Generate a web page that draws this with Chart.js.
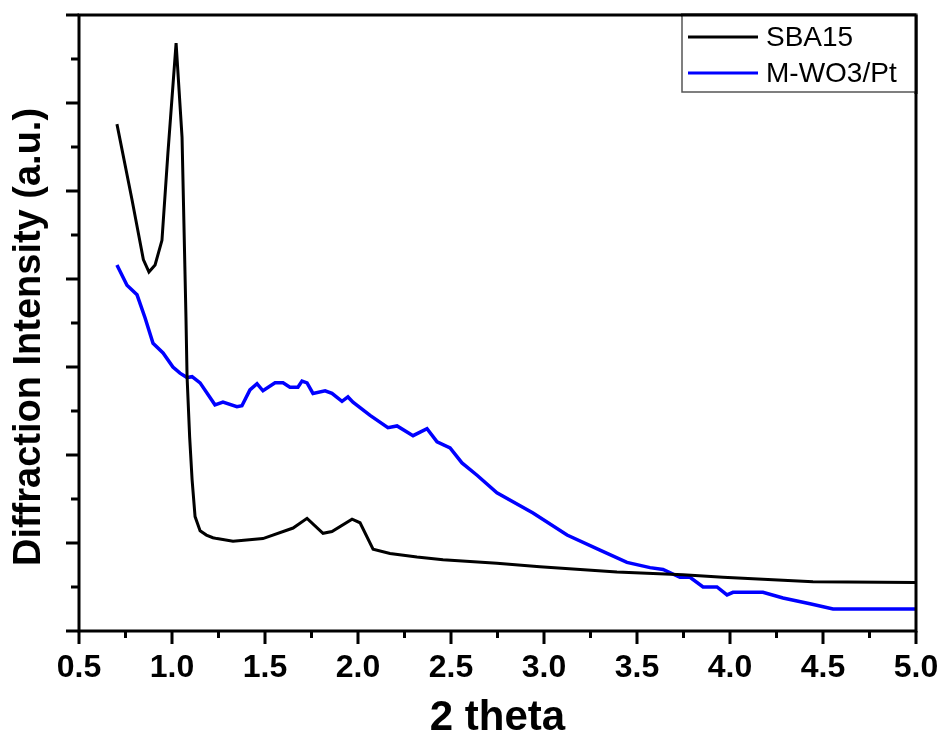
<!DOCTYPE html>
<html>
<head>
<meta charset="utf-8">
<script src="https://cdn.jsdelivr.net/npm/chart.js@4.4.1/dist/chart.umd.min.js"></script>
<style>
  body { margin: 0; background: #fff; }
  #wrap { width: 944px; height: 740px; }
</style>
</head>
<body>
<div id="wrap"><canvas id="xrd" width="944" height="740"></canvas></div>
<script>
// Données (2 theta / intensité en u.a.)
const seriesNames = ['SBA15', 'M-WO3/Pt'];
const sbaTheta = [0.704, 0.785, 0.846, 0.876, 0.909, 0.946, 0.978, 1.022, 1.054, 1.075, 1.081, 1.095, 1.108, 1.124, 1.151, 1.185, 1.220, 1.242, 1.328, 1.489, 1.651, 1.726, 1.812, 1.860, 1.968, 2.011, 2.081, 2.172, 2.317, 2.457, 2.747, 2.978, 3.392, 3.747, 3.962, 4.446, 4.995];
const sbaIntensity = [5.76, 4.90, 4.22, 4.08, 4.16, 4.44, 5.43, 6.68, 5.61, 3.57, 2.89, 2.20, 1.72, 1.30, 1.14, 1.09, 1.06, 1.05, 1.02, 1.05, 1.17, 1.28, 1.11, 1.13, 1.27, 1.23, 0.93, 0.88, 0.84, 0.81, 0.77, 0.73, 0.67, 0.64, 0.61, 0.56, 0.55];
const wo3Theta = [0.704, 0.758, 0.812, 0.855, 0.898, 0.952, 1.005, 1.043, 1.081, 1.108, 1.151, 1.231, 1.274, 1.349, 1.376, 1.419, 1.457, 1.489, 1.554, 1.597, 1.634, 1.677, 1.699, 1.726, 1.758, 1.823, 1.860, 1.914, 1.946, 1.973, 2.065, 2.161, 2.210, 2.296, 2.371, 2.425, 2.495, 2.559, 2.640, 2.747, 2.941, 3.124, 3.301, 3.446, 3.570, 3.640, 3.731, 3.785, 3.855, 3.930, 3.984, 4.016, 4.177, 4.285, 4.430, 4.554, 4.823, 4.995];
const wo3Intensity = [4.16, 3.93, 3.82, 3.56, 3.27, 3.16, 3.00, 2.93, 2.88, 2.89, 2.82, 2.57, 2.60, 2.55, 2.56, 2.74, 2.81, 2.73, 2.82, 2.82, 2.77, 2.77, 2.84, 2.82, 2.70, 2.73, 2.70, 2.61, 2.66, 2.60, 2.45, 2.31, 2.33, 2.22, 2.30, 2.15, 2.08, 1.91, 1.77, 1.57, 1.34, 1.09, 0.92, 0.78, 0.72, 0.70, 0.61, 0.61, 0.50, 0.50, 0.41, 0.44, 0.44, 0.375, 0.31, 0.25, 0.25, 0.25];
const xTickLabels = ['0.5', '1.0', '1.5', '2.0', '2.5', '3.0', '3.5', '4.0', '4.5', '5.0'];
const yTitle = 'Diffraction Intensity (a.u.)';

const toPoints = (xs, ys) => xs.map((x, i) => ({ x: x, y: ys[i] }));

// Cadre + graduations vers l'extérieur (majeures / mineures) + titre Y
const framePlugin = {
    id: 'frame',
    afterDraw(chart) {
        const { ctx, chartArea: a, scales: { x, y } } = chart;
        ctx.save();
        ctx.strokeStyle = '#000';
        ctx.lineWidth = 3;
        ctx.strokeRect(a.left, a.top, a.right - a.left, a.bottom - a.top);
        ctx.beginPath();
        x.ticks.forEach(t => {
            const px = x.getPixelForValue(t.value);
            const major = Math.abs(t.value * 2 - Math.round(t.value * 2)) < 1e-6;
            ctx.moveTo(px, a.bottom);
            ctx.lineTo(px, a.bottom + (major ? 13 : 7));
        });
        y.ticks.forEach(t => {
            const py = y.getPixelForValue(t.value);
            const major = Math.abs(t.value - Math.round(t.value)) < 1e-6;
            ctx.moveTo(a.left, py);
            ctx.lineTo(a.left - (major ? 13 : 8), py);
        });
        ctx.stroke();

        // titre de l'axe Y (un peu décalé vers le bas comme l'original)
        ctx.translate(30, (a.top + a.bottom) / 2 + 14);
        ctx.rotate(-Math.PI / 2);
        ctx.font = 'bold 38px "Liberation Sans", Arial, sans-serif';
        ctx.fillStyle = '#000';
        ctx.textAlign = 'center';
        ctx.textBaseline = 'middle';
        ctx.fillText(yTitle, 0, 0);
        ctx.restore();
    }
};

// Légende dans le coin supérieur droit
const legendBoxPlugin = {
    id: 'legendBox',
    afterDraw(chart) {
        const { ctx, chartArea: a } = chart;
        const w = 234, h = 77;
        const left = a.right - w, top = a.top;
        ctx.save();
        ctx.fillStyle = '#fff';
        ctx.fillRect(left, top, w, h);
        ctx.strokeStyle = '#555';
        ctx.lineWidth = 1.5;
        ctx.strokeRect(left, top, w, h);
        ctx.strokeStyle = '#000';
        ctx.lineWidth = 3;
        ctx.beginPath();
        ctx.moveTo(a.right, a.top);
        ctx.lineTo(a.right, a.top + h + 2);
        ctx.moveTo(left - 1, a.top);
        ctx.lineTo(a.right, a.top);
        ctx.stroke();
        ctx.font = '28px "Liberation Sans", Arial, sans-serif';
        ctx.textBaseline = 'middle';
        chart.data.datasets.forEach((ds, i) => {
            const yy = top + 22 + i * 36;
            ctx.strokeStyle = ds.borderColor;
            ctx.lineWidth = 3;
            ctx.beginPath();
            ctx.moveTo(left + 6, yy);
            ctx.lineTo(left + 76, yy);
            ctx.stroke();
            ctx.fillStyle = '#000';
            ctx.fillText(ds.label, left + 84, yy + 1);
        });
        ctx.restore();
    }
};

new Chart(document.getElementById('xrd'), {
    type: 'line',
    data: {
        datasets: [
            { label: seriesNames[0], data: toPoints(sbaTheta, sbaIntensity), borderColor: '#000000', borderWidth: 3, pointRadius: 0, tension: 0 },
            { label: seriesNames[1], data: toPoints(wo3Theta, wo3Intensity), borderColor: '#0000ff', borderWidth: 3.5, pointRadius: 0, tension: 0 }
        ]
    },
    options: {
        responsive: false,
        animation: false,
        layout: { padding: { top: 15, right: 28, left: 0, bottom: 0 } },
        plugins: { legend: { display: false }, tooltip: { enabled: false } },
        scales: {
            x: {
                type: 'linear',
                min: 0.5,
                max: 5.0,
                afterFit: s => { s.height = 109; s.paddingLeft = 0; s.paddingRight = 0; },
                grid: { display: false, drawTicks: false },
                border: { display: false },
                ticks: {
                    stepSize: 0.25,
                    autoSkip: false,
                    maxRotation: 0,
                    padding: 18,
                    color: '#000',
                    font: { family: '"Liberation Sans", Arial, sans-serif', size: 32, weight: 'bold' },
                    callback: v => {
                        const idx = Math.round((v - 0.5) * 2);
                        return Math.abs((v - 0.5) * 2 - idx) < 1e-6 ? xTickLabels[idx] : '';
                    }
                },
                title: {
                    display: true,
                    text: '2 theta',
                    color: '#000',
                    font: { family: '"Liberation Sans", Arial, sans-serif', size: 42, weight: 'bold', lineHeight: 1 },
                    padding: { top: 0, bottom: 1 }
                }
            },
            y: {
                min: 0,
                max: 7,
                afterFit: s => { s.width = 79; s.paddingTop = 0; s.paddingBottom = 0; },
                grid: { display: false, drawTicks: false },
                border: { display: false },
                ticks: { stepSize: 0.5, display: false },
                title: { display: false }
            }
        }
    },
    plugins: [framePlugin, legendBoxPlugin]
});
</script>
</body>
</html>
